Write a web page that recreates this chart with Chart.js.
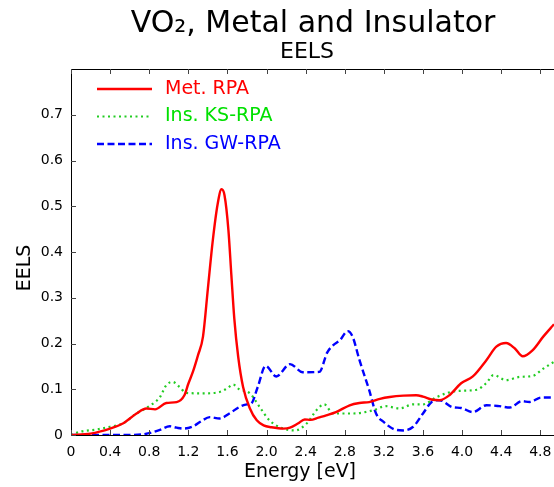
<!DOCTYPE html>
<html>
<head>
<meta charset="utf-8">
<script src="https://cdn.jsdelivr.net/npm/chart.js@4.4.1/dist/chart.umd.min.js"></script>
<style>
  html, body { margin: 0; padding: 0; background: #fff; overflow: hidden; }
  #wrap { width: 554px; height: 487px; position: relative; }
</style>
</head>
<body>
<div id="wrap"><canvas id="chart"></canvas></div>
<script>
// ── Data ──────────────────────────────────────────────────────────────────
const metE = [0, 0.2, 0.4, 0.53, 0.67, 0.77, 0.86, 0.975, 1.08, 1.16, 1.2, 1.25, 1.3, 1.35, 1.4, 1.45,
              1.5, 1.54, 1.57, 1.61, 1.64, 1.67, 1.71, 1.76, 1.83, 1.9, 1.97, 2.05, 2.17, 2.24, 2.32,
              2.39, 2.45, 2.53, 2.61, 2.71, 2.85, 2.95, 3.05, 3.16, 3.26, 3.4, 3.53, 3.6, 3.7, 3.77,
              3.87, 3.99, 4.11, 4.25, 4.35, 4.45, 4.54, 4.62, 4.72, 4.83, 4.94];
const metV = [0, 0.003, 0.014, 0.025, 0.047, 0.058, 0.056, 0.070, 0.072, 0.087, 0.112, 0.140, 0.175, 0.215, 0.32, 0.425,
              0.505, 0.537, 0.524, 0.448, 0.35, 0.255, 0.171, 0.105, 0.058, 0.032, 0.021, 0.017, 0.014, 0.016, 0.025,
              0.034, 0.033, 0.038, 0.043, 0.050, 0.065, 0.070, 0.072, 0.079, 0.083, 0.086, 0.087, 0.084, 0.077, 0.076,
              0.087, 0.113, 0.128, 0.164, 0.193, 0.201, 0.189, 0.172, 0.185, 0.215, 0.242];

const ksE = [0, 0.09, 0.26, 0.4, 0.53, 0.67, 0.8, 0.91, 0.975, 1.04, 1.11, 1.18, 1.35, 1.52, 1.59, 1.66,
             1.72, 1.83, 1.93, 2.03, 2.17, 2.29, 2.41, 2.51, 2.59, 2.68, 2.88, 3.09, 3.22, 3.36, 3.5,
             3.6, 3.74, 3.94, 4.15, 4.25, 4.32, 4.45, 4.59, 4.72, 4.83, 4.94];
const ksV = [0, 0.007, 0.012, 0.018, 0.025, 0.047, 0.063, 0.083, 0.109, 0.116, 0.105, 0.092, 0.091, 0.094, 0.101, 0.110,
             0.100, 0.091, 0.061, 0.032, 0.014, 0.010, 0.025, 0.054, 0.067, 0.047, 0.047, 0.054, 0.063, 0.058, 0.067,
             0.067, 0.083, 0.096, 0.099, 0.114, 0.131, 0.120, 0.127, 0.129, 0.145, 0.160];

const gwE = [0, 0.5, 0.72, 0.8, 0.91, 1.01, 1.08, 1.15, 1.25, 1.33, 1.42, 1.52, 1.62, 1.72, 1.8, 1.84,
             1.91, 1.99, 2.1, 2.24, 2.37, 2.54, 2.62, 2.68, 2.75, 2.83, 2.88, 2.95, 3.05, 3.12, 3.2, 3.3,
             3.4, 3.5, 3.6, 3.7, 3.77, 3.9, 3.99, 4.11, 4.25, 4.38, 4.49, 4.61, 4.69, 4.81, 4.94];
const gwV = [0, 0, 0.001, 0.004, 0.011, 0.019, 0.016, 0.014, 0.019, 0.030, 0.039, 0.036, 0.047, 0.061, 0.067, 0.068,
             0.105, 0.151, 0.128, 0.155, 0.137, 0.138, 0.180, 0.196, 0.207, 0.227, 0.215, 0.164, 0.098, 0.047, 0.028, 0.013,
             0.010, 0.018, 0.047, 0.074, 0.076, 0.061, 0.059, 0.050, 0.065, 0.063, 0.060, 0.074, 0.072, 0.082, 0.082];

const xTickVals = [0, 0.4, 0.8, 1.2, 1.6, 2.0, 2.4, 2.8, 3.2, 3.6, 4.0, 4.4, 4.8];
const yTickVals = [0, 0.1, 0.2, 0.3, 0.4, 0.5, 0.6, 0.7];

const FONT = "'DejaVu Sans', 'Liberation Sans', sans-serif";

function pts(xs, ys) {
  return xs.map((x, i) => ({ x, y: ys[i] }));
}

function tickLabel(v) {
  return v === 0 ? '0' : v.toFixed(1);
}

// ── Plugins: frame with inward ticks, legend, titles ─────────────────────
const frameTicks = {
  id: 'frameTicks',
  afterDraw(chart) {
    const { ctx, chartArea: a, scales: { x, y } } = chart;
    ctx.save();
    ctx.strokeStyle = '#000';
    ctx.lineWidth = 1;
    ctx.beginPath();
    ctx.moveTo(a.left, a.top + 0.5);
    ctx.lineTo(a.right, a.top + 0.5);
    ctx.stroke();

    ctx.strokeStyle = '#444';
    ctx.beginPath();
    xTickVals.forEach(v => {
      const px = Math.round(x.getPixelForValue(v)) + 0.5;
      ctx.moveTo(px, a.bottom); ctx.lineTo(px, a.bottom - 5);
      ctx.moveTo(px, a.top);    ctx.lineTo(px, a.top + 5);
    });
    yTickVals.forEach(v => {
      const py = Math.round(y.getPixelForValue(v)) + 0.5;
      ctx.moveTo(a.left, py); ctx.lineTo(a.left + 5, py);
    });
    ctx.stroke();
    ctx.restore();
  }
};

const insideLegend = {
  id: 'insideLegend',
  afterDraw(chart) {
    const { ctx } = chart;
    const rows = [89, 116.5, 144];
    ctx.save();
    ctx.font = `19px ${FONT}`;
    ctx.textBaseline = 'middle';
    chart.data.datasets.forEach((ds, i) => {
      const yy = rows[i];
      ctx.strokeStyle = ds.borderColor;
      ctx.lineWidth = ds.borderWidth;
      ctx.setLineDash(ds.borderDash || []);
      ctx.beginPath();
      ctx.moveTo(97, yy);
      ctx.lineTo(152, yy);
      ctx.stroke();
      ctx.setLineDash([]);
      ctx.fillStyle = ds.textColor || ds.borderColor;
      ctx.fillText(ds.label, 165, yy);
    });
    ctx.restore();
  }
};

const titles = {
  id: 'titles',
  afterDraw(chart) {
    const { ctx } = chart;
    ctx.save();
    ctx.fillStyle = '#000';
    ctx.textAlign = 'center';
    ctx.textBaseline = 'alphabetic';
    ctx.font = `30px ${FONT}`;
    ctx.fillText('VO₂, Metal and Insulator', 313, 32);
    ctx.font = `22px ${FONT}`;
    ctx.fillText('EELS', 307, 58);

    ctx.font = `19px ${FONT}`;
    ctx.textBaseline = 'middle';
    ctx.fillText('Energy [eV]', 300, 472);
    ctx.translate(25, 268);
    ctx.rotate(-Math.PI / 2);
    ctx.fillText('EELS', 0, 0);
    ctx.restore();
  }
};

// ── Chart ────────────────────────────────────────────────────────────────
new Chart(document.getElementById('chart'), {
  type: 'line',
  data: {
    datasets: [
      {
        label: 'Met. RPA',
        data: pts(metE, metV),
        borderColor: '#ff0000',
        borderWidth: 2.4,
        pointRadius: 0,
        cubicInterpolationMode: 'monotone',
      },
      {
        label: 'Ins. KS-RPA',
        data: pts(ksE, ksV),
        borderColor: '#22cc22',
        textColor: '#00e000',
        borderWidth: 2.2,
        borderDash: [2, 3.5],
        pointRadius: 0,
        cubicInterpolationMode: 'monotone',
      },
      {
        label: 'Ins. GW-RPA',
        data: pts(gwE, gwV),
        borderColor: '#0000ff',
        borderWidth: 2.4,
        borderDash: [7, 3.5],
        pointRadius: 0,
        cubicInterpolationMode: 'monotone',
      },
    ],
  },
  options: {
    responsive: true,
    maintainAspectRatio: false,
    animation: false,
    devicePixelRatio: 1,
    layout: { padding: { top: 69, right: 0, left: 0, bottom: 0 } },
    plugins: { legend: { display: false }, tooltip: { enabled: false } },
    scales: {
      x: {
        type: 'linear',
        min: 0,
        max: 4.94,
        afterBuildTicks: s => { s.ticks = xTickVals.map(v => ({ value: v })); },
        afterFit: s => { s.height = 52; s.paddingLeft = 0; s.paddingRight = 0; },
        ticks: {
          callback: tickLabel,
          color: '#000',
          font: { family: FONT, size: 14 },
          padding: 9,
          maxRotation: 0,
          autoSkip: false,
        },
        grid: { drawOnChartArea: false, drawTicks: false },
        border: { display: true, color: '#000', width: 1 },
      },
      y: {
        min: 0,
        max: 0.8,
        afterBuildTicks: s => { s.ticks = yTickVals.map(v => ({ value: v })); },
        afterFit: s => { s.width = 71; s.paddingTop = 0; s.paddingBottom = 0; },
        ticks: {
          callback: tickLabel,
          color: '#000',
          font: { family: FONT, size: 14 },
          padding: 8,
        },
        grid: { drawOnChartArea: false, drawTicks: false },
        border: { display: true, color: '#000', width: 1 },
      },
    },
  },
  plugins: [frameTicks, insideLegend, titles],
});
</script>
</body>
</html>
